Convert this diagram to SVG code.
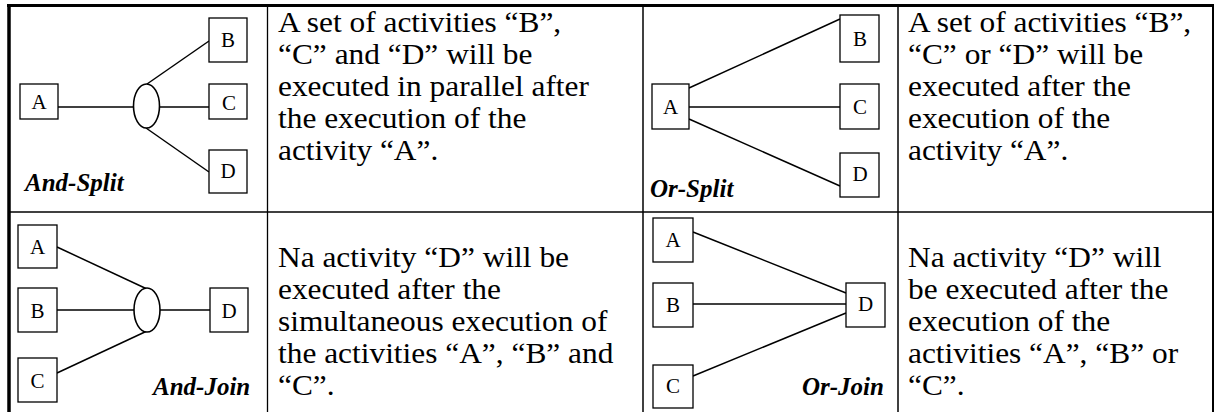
<svg xmlns="http://www.w3.org/2000/svg" width="1219" height="412" viewBox="0 0 1219 412">
  <style>
    .grid { stroke: #000; fill: none; }
    .box { fill: #fff; stroke: #000; stroke-width: 1.3; }
    .edge { stroke: #000; stroke-width: 1.5; fill: none; }
    .gate { fill: #fff; stroke: #000; stroke-width: 1.6; }
    .lbl { font-size: 21px; text-anchor: middle; }
    .title { font-size: 25px; font-weight: bold; font-style: italic; }
    .desc { font-size: 28.8px; }
  </style>

  <rect x="0" y="0" width="1219" height="412" fill="#fff"/>

  <!-- table grid -->
  <g id="table">
    <line class="grid" x1="7" y1="5.5" x2="1214" y2="5.5" stroke-width="3"/>
    <line class="grid" x1="9" y1="4" x2="9" y2="412" stroke-width="3.5"/>
    <line class="grid" x1="1213" y1="4" x2="1213" y2="412" stroke-width="2"/>
    <line class="grid" x1="9" y1="212" x2="1213" y2="212" stroke-width="1.5"/>
    <line class="grid" x1="267.5" y1="5" x2="267.5" y2="412" stroke-width="1.3"/>
    <line class="grid" x1="643" y1="5" x2="643" y2="412" stroke-width="1.5"/>
    <line class="grid" x1="898" y1="5" x2="898" y2="412" stroke-width="1.5"/>
  </g>

  <!-- connectors -->
  <g id="connectors">
    <!-- And-Split -->
    <line class="edge" x1="58" y1="107" x2="133" y2="107"/>
    <line class="edge" x1="159" y1="107" x2="209" y2="107"/>
    <line class="edge" x1="147" y1="84" x2="209" y2="41"/>
    <line class="edge" x1="146" y1="128" x2="209" y2="172"/>
    <!-- Or-Split -->
    <line class="edge" x1="689" y1="88" x2="840" y2="19"/>
    <line class="edge" x1="689" y1="107" x2="840" y2="107"/>
    <line class="edge" x1="689" y1="119" x2="840" y2="186"/>
    <!-- And-Join -->
    <line class="edge" x1="57" y1="247" x2="147" y2="289"/>
    <line class="edge" x1="57" y1="310" x2="134" y2="310"/>
    <line class="edge" x1="57" y1="373" x2="147" y2="331"/>
    <line class="edge" x1="160" y1="310" x2="210" y2="310"/>
    <!-- Or-Join -->
    <line class="edge" x1="693" y1="232" x2="846" y2="293"/>
    <line class="edge" x1="693" y1="304" x2="846" y2="304"/>
    <line class="edge" x1="693" y1="376" x2="846" y2="313"/>
  </g>

  <g font-family="'Liberation Serif', 'Times New Roman', Tinos, 'DejaVu Serif', serif" fill="#000">
  <!-- And-Split -->
  <g id="and-split">
    <rect class="box" x="20" y="84" width="38" height="35"/>
    <text class="lbl" x="39" y="109">A</text>
    <rect class="box" x="209" y="18" width="38" height="44"/>
    <text class="lbl" x="228" y="47">B</text>
    <rect class="box" x="209" y="84" width="38" height="35"/>
    <text class="lbl" x="229" y="110">C</text>
    <rect class="box" x="209" y="150" width="38" height="43"/>
    <text class="lbl" x="228" y="178">D</text>
    <ellipse class="gate" cx="146.5" cy="106" rx="13" ry="22"/>
    <text class="title" x="25" y="191">And-Split</text>
  </g>
  <g id="and-split-text" transform="translate(278 0) scale(1.09 1)">
    <text class="desc"><tspan x="0" y="32">A set of activities “B”,</tspan><tspan x="0" y="64">“C” and “D” will be</tspan><tspan x="0" y="96">executed in parallel after</tspan><tspan x="0" y="128">the execution of the</tspan><tspan x="0" y="160">activity “A”.</tspan></text>
  </g>

  <!-- Or-Split -->
  <g id="or-split">
    <rect class="box" x="652" y="84" width="37" height="45"/>
    <text class="lbl" x="670.5" y="113.5">A</text>
    <rect class="box" x="840" y="15" width="39" height="47"/>
    <text class="lbl" x="860" y="46">B</text>
    <rect class="box" x="840" y="84" width="39" height="45"/>
    <text class="lbl" x="860" y="114">C</text>
    <rect class="box" x="840" y="153" width="39" height="44"/>
    <text class="lbl" x="860" y="181">D</text>
    <text class="title" x="650" y="197">Or-Split</text>
  </g>
  <g id="or-split-text" transform="translate(908 0) scale(1.09 1)">
    <text class="desc"><tspan x="0" y="32">A set of activities “B”,</tspan><tspan x="0" y="64">“C” or “D” will be</tspan><tspan x="0" y="96">executed after the</tspan><tspan x="0" y="128">execution of the</tspan><tspan x="0" y="160">activity “A”.</tspan></text>
  </g>

  <!-- And-Join -->
  <g id="and-join">
    <rect class="box" x="18" y="225" width="39" height="43"/>
    <text class="lbl" x="37.5" y="254">A</text>
    <rect class="box" x="18" y="288" width="39" height="44"/>
    <text class="lbl" x="37.5" y="318">B</text>
    <rect class="box" x="18" y="358" width="39" height="44"/>
    <text class="lbl" x="37.5" y="388">C</text>
    <ellipse class="gate" cx="147" cy="310" rx="13" ry="22"/>
    <rect class="box" x="210" y="288" width="38" height="44"/>
    <text class="lbl" x="229" y="318">D</text>
    <text class="title" x="153" y="395">And-Join</text>
  </g>
  <g id="and-join-text" transform="translate(278 0) scale(1.09 1)">
    <text class="desc"><tspan x="0" y="267">Na activity “D” will be</tspan><tspan x="0" y="299">executed after the</tspan><tspan x="0" y="331">simultaneous execution of</tspan><tspan x="0" y="363">the activities “A”, “B” and</tspan><tspan x="0" y="395">“C”.</tspan></text>
  </g>

  <!-- Or-Join -->
  <g id="or-join">
    <rect class="box" x="653" y="218" width="40" height="44"/>
    <text class="lbl" x="673" y="247">A</text>
    <rect class="box" x="653" y="283" width="40" height="44"/>
    <text class="lbl" x="673" y="312">B</text>
    <rect class="box" x="653" y="365" width="40" height="43"/>
    <text class="lbl" x="673" y="393">C</text>
    <rect class="box" x="846" y="283" width="39" height="44"/>
    <text class="lbl" x="865.5" y="311">D</text>
    <text class="title" x="802" y="395">Or-Join</text>
  </g>
  <g id="or-join-text" transform="translate(908 0) scale(1.09 1)">
    <text class="desc"><tspan x="0" y="267">Na activity “D” will</tspan><tspan x="0" y="299">be executed after the</tspan><tspan x="0" y="331">execution of the</tspan><tspan x="0" y="363">activities “A”, “B” or</tspan><tspan x="0" y="395">“C”.</tspan></text>
  </g>
  </g>
</svg>
